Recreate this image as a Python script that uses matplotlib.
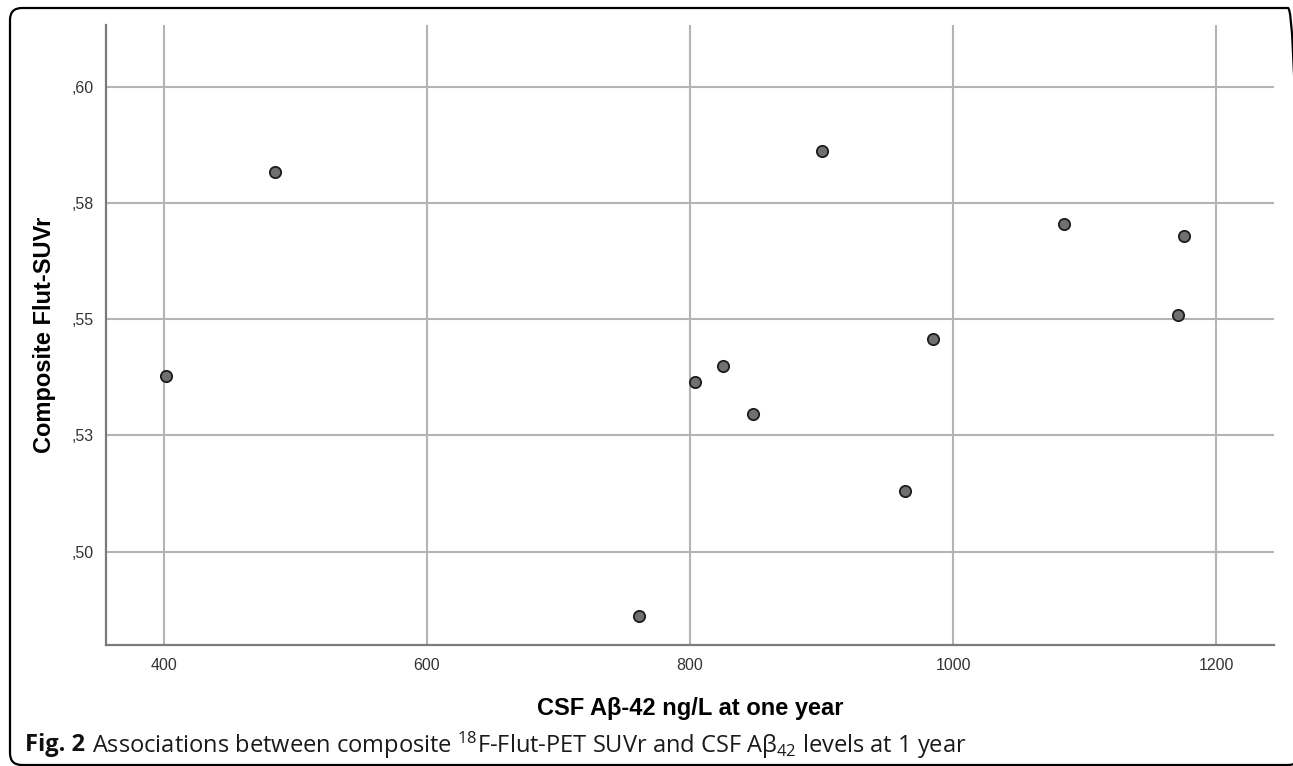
import matplotlib
matplotlib.use("Agg")
import matplotlib.pyplot as plt
from matplotlib.patches import FancyBboxPatch
from matplotlib.transforms import IdentityTransform

# data
csf_abeta42 = [401.7, 484.2, 760.8, 804.0, 825.3, 848.1, 900.6, 963.2, 985.0, 1084.1, 1175.2, 1171.2]
flut_suvr = [0.5377, 0.5816, 0.4861, 0.5364, 0.5399, 0.5296, 0.5862, 0.5130, 0.5457, 0.5704, 0.5680, 0.5508]

x_ticks = [400, 600, 800, 1000, 1200]
y_ticks = [0.500, 0.525, 0.550, 0.575, 0.600]
y_tick_labels = [",50", ",53", ",55", ",58", ",60"]

W, H = 1293, 766
fig = plt.figure(figsize=(W / 100, H / 100), dpi=100)
ax = fig.add_axes([106 / W, (H - 645) / H, (1274 - 106) / W, (645 - 25) / H])

ax.scatter(csf_abeta42, flut_suvr, s=66, facecolor="#707070", edgecolor="#1c1c1c",
           linewidth=1.3, zorder=3)

ax.set_xlim(355.9, 1244)
ax.set_ylim(0.4799, 0.6133)
ax.set_xticks(x_ticks)
ax.set_yticks(y_ticks)
ax.set_yticklabels(y_tick_labels)
ax.tick_params(length=0, labelsize=11.5, colors="#333333", pad=9)
for lab in ax.get_xticklabels() + ax.get_yticklabels():
    lab.set_family("Liberation Sans")

ax.grid(True, color="#b4b4b4", linewidth=1.5)
ax.set_axisbelow(True)
for side in ["top", "right"]:
    ax.spines[side].set_visible(False)
for side in ["left", "bottom"]:
    ax.spines[side].set_color("#7a7a7a")
    ax.spines[side].set_linewidth(1.6)

ax.set_xlabel("CSF Aβ-42 ng/L at one year", fontsize=17, fontweight="bold",
              family="Liberation Sans", labelpad=18)
ax.set_ylabel("Composite Flut-SUVr", fontsize=17, fontweight="bold",
              family="Liberation Sans", labelpad=11)

# rounded frame around the figure
frame = FancyBboxPatch((10, 1), 1290, 757, boxstyle="round,pad=0,rounding_size=12",
                       transform=IdentityTransform(), fill=False,
                       edgecolor="black", linewidth=1.6)
fig.patches.append(frame)

# caption
cap_y = (H - 745) / H
t1 = fig.text(25 / W, cap_y, "Fig. 2", fontsize=17, fontweight="bold",
              family="Open Sans", va="center", color="#111111")
renderer = fig.canvas.get_renderer()
bb = t1.get_window_extent(renderer)
fig.text((bb.x1 + 7) / W, cap_y,
         r"Associations between composite $\mathregular{^{18}}$F-Flut-PET SUVr and CSF A"
         r"β$\mathregular{_{42}}$ levels at 1 year",
         fontsize=17, family="Open Sans", va="center", color="#1a1a1a")

plt.savefig("out.png", dpi=100)
print("Saved out.png")
